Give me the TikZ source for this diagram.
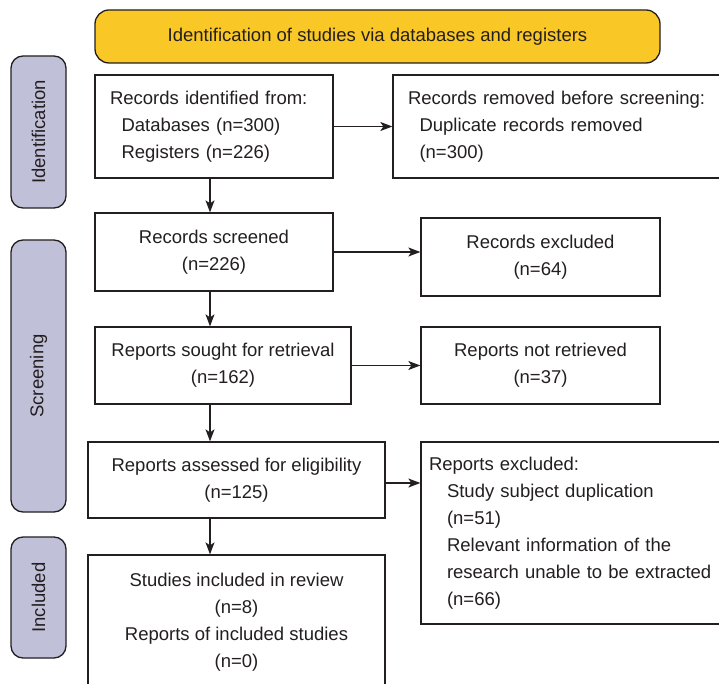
\documentclass[tikz,border=0pt]{standalone}
\usepackage{fontspec}
\setmainfont{Liberation Sans}
\usetikzlibrary{arrows.meta}
\definecolor{ink}{RGB}{35,31,32}
\definecolor{banneryellow}{RGB}{250,200,38}
\definecolor{sidelav}{RGB}{193,192,217}
\tikzset{
  box/.style={draw=ink, line width=1.3pt, fill=white, inner ysep=0pt, text=ink},
  cbox/.style={box, align=center, inner xsep=0pt},
  lbox/.style={box, align=left},
  arr/.style={draw=ink, line width=1.1pt, -{Stealth[length=12pt,width=9pt,inset=3pt]}},
  side/.style={draw=ink, line width=1.3pt, fill=sidelav, rounded corners=12pt, text=ink, inner sep=0pt},
}
\begin{document}
\begin{tikzpicture}[x=1pt,y=-1pt, font=\fontsize{18.5}{27}\selectfont]
\useasboundingbox (0,0) rectangle (719,684);
\clip (0,0) rectangle (719,684);
\fill[white] (0,0) rectangle (719,684);

% banner
\node[draw=ink, line width=1.3pt, fill=banneryellow, rounded corners=14pt,
      minimum width=565pt, minimum height=53pt, text=ink] (banner) at (377.5,36.5)
      {Identification of studies via databases and registers};

% side labels
\node[side, rotate=90, minimum width=152pt, minimum height=55pt] (sideI) at (38.5,132) {Identification};
\node[side, rotate=90, minimum width=272pt, minimum height=55pt] (sideS) at (38.5,376) {Screening};
\node[side, rotate=90, minimum width=121pt, minimum height=55pt] (sideN) at (38.5,597.5) {Included};

% boxes
\node[lbox, inner xsep=15pt, text width=208pt, minimum height=103pt] (A) at (214,126.5)
  {Records identified from:\\\hspace*{11.5pt}Databases (n=300)\\\hspace*{11.5pt}Registers (n=226)};
\node[lbox, inner xsep=15pt, text width=322pt, minimum height=103pt] (B) at (569,126.5)
  {Records removed before screening:\\\hspace*{11.5pt}Duplicate records removed\\\hspace*{11.5pt}(n=300)};
\node[cbox, minimum width=238pt, minimum height=78pt] (C) at (214,252)
  {Records screened\\(n=226)};
\node[cbox, minimum width=239pt, minimum height=78pt] (D) at (540.5,257)
  {Records excluded\\(n=64)};
\node[cbox, minimum width=256pt, minimum height=77pt] (E) at (223,365.5)
  {Reports sought for retrieval\\(n=162)};
\node[cbox, minimum width=239pt, minimum height=77pt] (F) at (540.5,365.5)
  {Reports not retrieved\\(n=37)};
\node[cbox, minimum width=297pt, minimum height=76pt] (G) at (236.5,480)
  {Reports assessed for eligibility\\(n=125)};
\node[lbox, inner xsep=8pt, text width=308pt, minimum height=182pt] (H) at (583,533)
  {Reports excluded:\\\hspace*{18pt}Study subject duplication\\\hspace*{18pt}(n=51)\\\hspace*{18pt}Relevant information of the\\\hspace*{18pt}research unable to be extracted\\\hspace*{18pt}(n=66)};
\node[cbox, minimum width=297pt, minimum height=135pt] (I) at (236.5,622.5)
  {Studies included in review\\(n=8)\\Reports of included studies\\(n=0)};

% connectors
\draw[arr] (A.east) -- (B.west);
\draw[arr] ([xshift=-4pt]A.south) -- ([xshift=-4pt]C.north);
\draw[arr] (C.east) -- (C.east -| D.west);
\draw[arr] ([xshift=-4pt]C.south) -- ([xshift=-4pt]C.south |- E.north);
\draw[arr] (E.east) -- (F.west);
\draw[arr] ([xshift=-13pt]E.south) -- ([xshift=-13pt]E.south |- G.north);
\draw[arr] ([yshift=-3pt]G.east) -- ([yshift=-3pt]G.east -| H.west);
\draw[arr] ([xshift=-26.5pt]G.south) -- ([xshift=-26.5pt]G.south |- I.north);
\end{tikzpicture}
\end{document}
